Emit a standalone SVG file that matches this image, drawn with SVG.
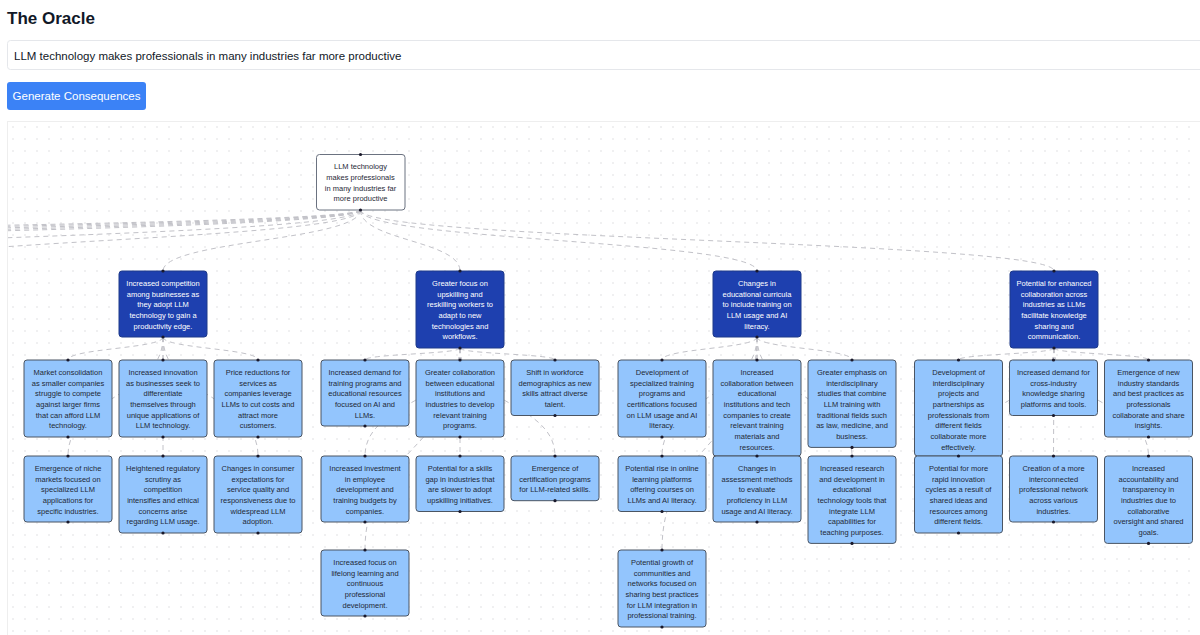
<svg xmlns="http://www.w3.org/2000/svg" width="1200" height="635" viewBox="0 0 1200 635">
<defs>
<style>
.t{font-family:"Liberation Sans",Arial,sans-serif;}
.nt{font-family:"Liberation Sans",Arial,sans-serif;font-size:7.5px;text-anchor:middle;fill:#1f2937;}
.dt{font-family:"Liberation Sans",Arial,sans-serif;font-size:7.5px;text-anchor:middle;fill:#ffffff;}
.ln{fill:#93c5fd;stroke:#4b5563;stroke-width:1;}
.dn{fill:#1e40af;stroke:#1e3a8a;stroke-width:1;}
.rn{fill:#ffffff;stroke:#6b7280;stroke-width:1;}
.h{fill:#1a192b;}
.e{fill:none;stroke:#c2c2c8;stroke-width:1;stroke-dasharray:5 4;}
</style>
<pattern id="dots" x="7" y="121" width="12" height="12" patternUnits="userSpaceOnUse">
<circle cx="6" cy="6" r="0.7" fill="#d4d4d8"/>
</pattern>
<clipPath id="cv"><rect x="8" y="122" width="1192" height="513"/></clipPath>
</defs>
<rect x="0" y="0" width="1200" height="635" fill="#ffffff"/>
<text class="t" x="7" y="24" font-size="17" font-weight="bold" fill="#111827">The Oracle</text>
<rect x="7.5" y="40.5" width="1200" height="29" rx="3" fill="#ffffff" stroke="#e5e7eb"/>
<text class="t" x="14" y="59.5" font-size="11.5" fill="#111827">LLM technology makes professionals in many industries far more productive</text>
<rect x="7" y="82" width="139" height="28" rx="3" fill="#3b82f6"/>
<text class="t" x="76.5" y="100" font-size="11.5" fill="#ffffff" text-anchor="middle">Generate Consequences</text>
<rect x="7.5" y="121.5" width="1200" height="600" fill="#ffffff" stroke="#eeeeee"/>
<rect x="8" y="122" width="1192" height="513" fill="url(#dots)"/>

<g id="connectors" clip-path="url(#cv)">
<path class="e" d="M360.5,210 C360.5,240.5 -150,240.5 -150,271"/>
<path class="e" d="M360.5,210 C360.5,240.5 -500,240.5 -500,271"/>
<path class="e" d="M360.5,210 C360.5,240.5 -1300,240.5 -1300,271"/>
<path class="e" d="M360.5,210 C360.5,240.5 -1600,240.5 -1600,271"/>
<path class="e" d="M360.5,210 C360.5,240.5 -2000,240.5 -2000,271"/>
<path class="e" d="M360.5,210 C360.5,240.5 -2500,240.5 -2500,271"/>
<path class="e" d="M360.5,210 C360.5,240.5 -3000,240.5 -3000,271"/>
<path class="e" d="M360.5,210 C360.5,240.5 163,240.5 163,271"/>
<path class="e" d="M360.5,210 C360.5,240.5 460,240.5 460,271"/>
<path class="e" d="M360.5,210 C360.5,240.5 757,240.5 757,271"/>
<path class="e" d="M360.5,210 C360.5,240.5 1054,240.5 1054,271"/>

<path class="e" d="M163,337 C163,348.5 68,348.5 68,360"/>
<path class="e" d="M163,337 L163,360"/>
<path class="e" d="M163,337 C163,348.5 258,348.5 258,360"/>
<path class="e" d="M163,337 C163,396.5 68,396.5 68,456"/>
<path class="e" d="M163,337 L163,456"/>
<path class="e" d="M163,337 C163,396.5 258,396.5 258,456"/>

<path class="e" d="M460,348 C460,354 365,354 365,360"/>
<path class="e" d="M460,348 L460,360"/>
<path class="e" d="M460,348 C460,354 555,354 555,360"/>
<path class="e" d="M460,348 C460,402 365,402 365,456"/>
<path class="e" d="M460,348 L460,456"/>
<path class="e" d="M460,348 C460,402 555,402 555,456"/>
<path class="e" d="M460,348 C460,449 365,449 365,550"/>

<path class="e" d="M757,337 C757,348.5 662,348.5 662,360"/>
<path class="e" d="M757,337 L757,360"/>
<path class="e" d="M757,337 C757,348.5 852,348.5 852,360"/>
<path class="e" d="M757,337 C757,396.5 662,396.5 662,456"/>
<path class="e" d="M757,337 L757,456"/>
<path class="e" d="M757,337 C757,396.5 852,396.5 852,456"/>
<path class="e" d="M757,337 C757,443.5 662,443.5 662,550"/>

<path class="e" d="M1054,348 C1054,354 958.5,354 958.5,360"/>
<path class="e" d="M1054,348 L1053.5,360"/>
<path class="e" d="M1054,348 C1054,354 1148.5,354 1148.5,360"/>
<path class="e" d="M1054,348 C1054,402 958.5,402 958.5,456"/>
<path class="e" d="M1054,348 L1053.5,456"/>
<path class="e" d="M1054,348 C1054,402 1148.5,402 1148.5,456"/>
</g>

<g id="n-root">
<rect class="rn" x="316.5" y="154.5" width="88.5" height="55.5" rx="3"/>
<text class="nt" x="360.5" y="169.3"><tspan x="360.5">LLM technology</tspan><tspan x="360.5" dy="10.67">makes professionals</tspan><tspan x="360.5" dy="10.67">in many industries far</tspan><tspan x="360.5" dy="10.67">more productive</tspan></text>
<circle class="h" cx="360.5" cy="154.5" r="1.6"/><circle class="h" cx="360.5" cy="210" r="1.6"/>
</g>

<g id="n-d1">
<rect class="dn" x="119" y="271" width="88" height="66" rx="3"/>
<text class="dt" x="163" y="286"><tspan x="163">Increased competition</tspan><tspan x="163" dy="10.67">among businesses as</tspan><tspan x="163" dy="10.67">they adopt LLM</tspan><tspan x="163" dy="10.67">technology to gain a</tspan><tspan x="163" dy="10.67">productivity edge.</tspan></text>
<circle class="h" cx="163" cy="271" r="1.6"/><circle class="h" cx="163" cy="337" r="1.6"/>
</g>
<g id="n-d2">
<rect class="dn" x="416" y="271" width="88" height="77" rx="3"/>
<text class="dt" x="460" y="286"><tspan x="460">Greater focus on</tspan><tspan x="460" dy="10.67">upskilling and</tspan><tspan x="460" dy="10.67">reskilling workers to</tspan><tspan x="460" dy="10.67">adapt to new</tspan><tspan x="460" dy="10.67">technologies and</tspan><tspan x="460" dy="10.67">workflows.</tspan></text>
<circle class="h" cx="460" cy="271" r="1.6"/><circle class="h" cx="460" cy="348" r="1.6"/>
</g>
<g id="n-d3">
<rect class="dn" x="713" y="271" width="88" height="66" rx="3"/>
<text class="dt" x="757" y="286"><tspan x="757">Changes in</tspan><tspan x="757" dy="10.67">educational curricula</tspan><tspan x="757" dy="10.67">to include training on</tspan><tspan x="757" dy="10.67">LLM usage and AI</tspan><tspan x="757" dy="10.67">literacy.</tspan></text>
<circle class="h" cx="757" cy="271" r="1.6"/><circle class="h" cx="757" cy="337" r="1.6"/>
</g>
<g id="n-d4">
<rect class="dn" x="1010" y="271" width="88" height="77" rx="3"/>
<text class="dt" x="1054" y="286"><tspan x="1054">Potential for enhanced</tspan><tspan x="1054" dy="10.67">collaboration across</tspan><tspan x="1054" dy="10.67">industries as LLMs</tspan><tspan x="1054" dy="10.67">facilitate knowledge</tspan><tspan x="1054" dy="10.67">sharing and</tspan><tspan x="1054" dy="10.67">communication.</tspan></text>
<circle class="h" cx="1054" cy="271" r="1.6"/><circle class="h" cx="1054" cy="348" r="1.6"/>
</g>

<g id="n-1a">
<rect class="ln" x="24" y="360" width="88" height="77" rx="3"/>
<text class="nt" x="68" y="375"><tspan x="68">Market consolidation</tspan><tspan x="68" dy="10.67">as smaller companies</tspan><tspan x="68" dy="10.67">struggle to compete</tspan><tspan x="68" dy="10.67">against larger firms</tspan><tspan x="68" dy="10.67">that can afford LLM</tspan><tspan x="68" dy="10.67">technology.</tspan></text>
<circle class="h" cx="68" cy="360" r="1.6"/><circle class="h" cx="68" cy="437" r="1.6"/>
</g>
<g id="n-1b">
<rect class="ln" x="119" y="360" width="88" height="77" rx="3"/>
<text class="nt" x="163" y="375"><tspan x="163">Increased innovation</tspan><tspan x="163" dy="10.67">as businesses seek to</tspan><tspan x="163" dy="10.67">differentiate</tspan><tspan x="163" dy="10.67">themselves through</tspan><tspan x="163" dy="10.67">unique applications of</tspan><tspan x="163" dy="10.67">LLM technology.</tspan></text>
<circle class="h" cx="163" cy="360" r="1.6"/><circle class="h" cx="163" cy="437" r="1.6"/>
</g>
<g id="n-1c">
<rect class="ln" x="214" y="360" width="88" height="77" rx="3"/>
<text class="nt" x="258" y="375"><tspan x="258">Price reductions for</tspan><tspan x="258" dy="10.67">services as</tspan><tspan x="258" dy="10.67">companies leverage</tspan><tspan x="258" dy="10.67">LLMs to cut costs and</tspan><tspan x="258" dy="10.67">attract more</tspan><tspan x="258" dy="10.67">customers.</tspan></text>
<circle class="h" cx="258" cy="360" r="1.6"/><circle class="h" cx="258" cy="437" r="1.6"/>
</g>
<g id="n-1d">
<rect class="ln" x="24" y="456" width="88" height="66" rx="3"/>
<text class="nt" x="68" y="471"><tspan x="68">Emergence of niche</tspan><tspan x="68" dy="10.67">markets focused on</tspan><tspan x="68" dy="10.67">specialized LLM</tspan><tspan x="68" dy="10.67">applications for</tspan><tspan x="68" dy="10.67">specific industries.</tspan></text>
<circle class="h" cx="68" cy="456" r="1.6"/><circle class="h" cx="68" cy="522" r="1.6"/>
</g>
<g id="n-1e">
<rect class="ln" x="119" y="456" width="88" height="77" rx="3"/>
<text class="nt" x="163" y="471"><tspan x="163">Heightened regulatory</tspan><tspan x="163" dy="10.67">scrutiny as</tspan><tspan x="163" dy="10.67">competition</tspan><tspan x="163" dy="10.67">intensifies and ethical</tspan><tspan x="163" dy="10.67">concerns arise</tspan><tspan x="163" dy="10.67">regarding LLM usage.</tspan></text>
<circle class="h" cx="163" cy="456" r="1.6"/><circle class="h" cx="163" cy="533" r="1.6"/>
</g>
<g id="n-1f">
<rect class="ln" x="214" y="456" width="88" height="77" rx="3"/>
<text class="nt" x="258" y="471"><tspan x="258">Changes in consumer</tspan><tspan x="258" dy="10.67">expectations for</tspan><tspan x="258" dy="10.67">service quality and</tspan><tspan x="258" dy="10.67">responsiveness due to</tspan><tspan x="258" dy="10.67">widespread LLM</tspan><tspan x="258" dy="10.67">adoption.</tspan></text>
<circle class="h" cx="258" cy="456" r="1.6"/><circle class="h" cx="258" cy="533" r="1.6"/>
</g>

<g id="n-2a">
<rect class="ln" x="321" y="360" width="88" height="66" rx="3"/>
<text class="nt" x="365" y="375"><tspan x="365">Increased demand for</tspan><tspan x="365" dy="10.67">training programs and</tspan><tspan x="365" dy="10.67">educational resources</tspan><tspan x="365" dy="10.67">focused on AI and</tspan><tspan x="365" dy="10.67">LLMs.</tspan></text>
<circle class="h" cx="365" cy="360" r="1.6"/><circle class="h" cx="365" cy="426" r="1.6"/>
</g>
<g id="n-2b">
<rect class="ln" x="416" y="360" width="88" height="77" rx="3"/>
<text class="nt" x="460" y="375"><tspan x="460">Greater collaboration</tspan><tspan x="460" dy="10.67">between educational</tspan><tspan x="460" dy="10.67">institutions and</tspan><tspan x="460" dy="10.67">industries to develop</tspan><tspan x="460" dy="10.67">relevant training</tspan><tspan x="460" dy="10.67">programs.</tspan></text>
<circle class="h" cx="460" cy="360" r="1.6"/><circle class="h" cx="460" cy="437" r="1.6"/>
</g>
<g id="n-2c">
<rect class="ln" x="511" y="360" width="88" height="55.5" rx="3"/>
<text class="nt" x="555" y="375"><tspan x="555">Shift in workforce</tspan><tspan x="555" dy="10.67">demographics as new</tspan><tspan x="555" dy="10.67">skills attract diverse</tspan><tspan x="555" dy="10.67">talent.</tspan></text>
<circle class="h" cx="555" cy="360" r="1.6"/><circle class="h" cx="555" cy="415.5" r="1.6"/>
</g>
<g id="n-2d">
<rect class="ln" x="321" y="456" width="88" height="66" rx="3"/>
<text class="nt" x="365" y="471"><tspan x="365">Increased investment</tspan><tspan x="365" dy="10.67">in employee</tspan><tspan x="365" dy="10.67">development and</tspan><tspan x="365" dy="10.67">training budgets by</tspan><tspan x="365" dy="10.67">companies.</tspan></text>
<circle class="h" cx="365" cy="456" r="1.6"/><circle class="h" cx="365" cy="522" r="1.6"/>
</g>
<g id="n-2e">
<rect class="ln" x="416" y="456" width="88" height="55.5" rx="3"/>
<text class="nt" x="460" y="471"><tspan x="460">Potential for a skills</tspan><tspan x="460" dy="10.67">gap in industries that</tspan><tspan x="460" dy="10.67">are slower to adopt</tspan><tspan x="460" dy="10.67">upskilling initiatives.</tspan></text>
<circle class="h" cx="460" cy="456" r="1.6"/><circle class="h" cx="460" cy="511.5" r="1.6"/>
</g>
<g id="n-2f">
<rect class="ln" x="511" y="456" width="88" height="44.7" rx="3"/>
<text class="nt" x="555" y="471"><tspan x="555">Emergence of</tspan><tspan x="555" dy="10.67">certification programs</tspan><tspan x="555" dy="10.67">for LLM-related skills.</tspan></text>
<circle class="h" cx="555" cy="456" r="1.6"/><circle class="h" cx="555" cy="500.7" r="1.6"/>
</g>
<g id="n-2g">
<rect class="ln" x="321" y="550" width="88" height="66" rx="3"/>
<text class="nt" x="365" y="565"><tspan x="365">Increased focus on</tspan><tspan x="365" dy="10.67">lifelong learning and</tspan><tspan x="365" dy="10.67">continuous</tspan><tspan x="365" dy="10.67">professional</tspan><tspan x="365" dy="10.67">development.</tspan></text>
<circle class="h" cx="365" cy="550" r="1.6"/><circle class="h" cx="365" cy="616" r="1.6"/>
</g>

<g id="n-3a">
<rect class="ln" x="618" y="360" width="88" height="77" rx="3"/>
<text class="nt" x="662" y="375"><tspan x="662">Development of</tspan><tspan x="662" dy="10.67">specialized training</tspan><tspan x="662" dy="10.67">programs and</tspan><tspan x="662" dy="10.67">certifications focused</tspan><tspan x="662" dy="10.67">on LLM usage and AI</tspan><tspan x="662" dy="10.67">literacy.</tspan></text>
<circle class="h" cx="662" cy="360" r="1.6"/><circle class="h" cx="662" cy="437" r="1.6"/>
</g>
<g id="n-3b">
<rect class="ln" x="713" y="360" width="88" height="96" rx="3"/>
<text class="nt" x="757" y="375"><tspan x="757">Increased</tspan><tspan x="757" dy="10.67">collaboration between</tspan><tspan x="757" dy="10.67">educational</tspan><tspan x="757" dy="10.67">institutions and tech</tspan><tspan x="757" dy="10.67">companies to create</tspan><tspan x="757" dy="10.67">relevant training</tspan><tspan x="757" dy="10.67">materials and</tspan><tspan x="757" dy="10.67">resources.</tspan></text>
<circle class="h" cx="757" cy="360" r="1.6"/>
</g>
<g id="n-3c">
<rect class="ln" x="808" y="360" width="88" height="87.4" rx="3"/>
<text class="nt" x="852" y="375"><tspan x="852">Greater emphasis on</tspan><tspan x="852" dy="10.67">interdisciplinary</tspan><tspan x="852" dy="10.67">studies that combine</tspan><tspan x="852" dy="10.67">LLM training with</tspan><tspan x="852" dy="10.67">traditional fields such</tspan><tspan x="852" dy="10.67">as law, medicine, and</tspan><tspan x="852" dy="10.67">business.</tspan></text>
<circle class="h" cx="852" cy="360" r="1.6"/><circle class="h" cx="852" cy="447.4" r="1.6"/>
</g>
<g id="n-3d">
<rect class="ln" x="618" y="456" width="88" height="55.5" rx="3"/>
<text class="nt" x="662" y="471"><tspan x="662">Potential rise in online</tspan><tspan x="662" dy="10.67">learning platforms</tspan><tspan x="662" dy="10.67">offering courses on</tspan><tspan x="662" dy="10.67">LLMs and AI literacy.</tspan></text>
<circle class="h" cx="662" cy="456" r="1.6"/><circle class="h" cx="662" cy="511.5" r="1.6"/>
</g>
<g id="n-3e">
<rect class="ln" x="713" y="456" width="88" height="66" rx="3"/>
<text class="nt" x="757" y="471"><tspan x="757">Changes in</tspan><tspan x="757" dy="10.67">assessment methods</tspan><tspan x="757" dy="10.67">to evaluate</tspan><tspan x="757" dy="10.67">proficiency in LLM</tspan><tspan x="757" dy="10.67">usage and AI literacy.</tspan></text>
<circle class="h" cx="757" cy="456" r="1.6"/><circle class="h" cx="757" cy="522" r="1.6"/>
</g>
<g id="n-3f">
<rect class="ln" x="808" y="456" width="88" height="87.4" rx="3"/>
<text class="nt" x="852" y="471"><tspan x="852">Increased research</tspan><tspan x="852" dy="10.67">and development in</tspan><tspan x="852" dy="10.67">educational</tspan><tspan x="852" dy="10.67">technology tools that</tspan><tspan x="852" dy="10.67">integrate LLM</tspan><tspan x="852" dy="10.67">capabilities for</tspan><tspan x="852" dy="10.67">teaching purposes.</tspan></text>
<circle class="h" cx="852" cy="456" r="1.6"/><circle class="h" cx="852" cy="543.4" r="1.6"/>
</g>
<g id="n-3g">
<rect class="ln" x="618" y="550" width="88" height="77" rx="3"/>
<text class="nt" x="662" y="565"><tspan x="662">Potential growth of</tspan><tspan x="662" dy="10.67">communities and</tspan><tspan x="662" dy="10.67">networks focused on</tspan><tspan x="662" dy="10.67">sharing best practices</tspan><tspan x="662" dy="10.67">for LLM integration in</tspan><tspan x="662" dy="10.67">professional training.</tspan></text>
<circle class="h" cx="662" cy="550" r="1.6"/><circle class="h" cx="662" cy="627" r="1.6"/>
</g>

<g id="n-4a">
<rect class="ln" x="914.5" y="360" width="88" height="96" rx="3"/>
<text class="nt" x="958.5" y="375"><tspan x="958.5">Development of</tspan><tspan x="958.5" dy="10.67">interdisciplinary</tspan><tspan x="958.5" dy="10.67">projects and</tspan><tspan x="958.5" dy="10.67">partnerships as</tspan><tspan x="958.5" dy="10.67">professionals from</tspan><tspan x="958.5" dy="10.67">different fields</tspan><tspan x="958.5" dy="10.67">collaborate more</tspan><tspan x="958.5" dy="10.67">effectively.</tspan></text>
<circle class="h" cx="958.5" cy="360" r="1.6"/>
</g>
<g id="n-4b">
<rect class="ln" x="1009.5" y="360" width="88" height="55.5" rx="3"/>
<text class="nt" x="1053.5" y="375"><tspan x="1053.5">Increased demand for</tspan><tspan x="1053.5" dy="10.67">cross-industry</tspan><tspan x="1053.5" dy="10.67">knowledge sharing</tspan><tspan x="1053.5" dy="10.67">platforms and tools.</tspan></text>
<circle class="h" cx="1053.5" cy="360" r="1.6"/><circle class="h" cx="1053.5" cy="415.5" r="1.6"/>
</g>
<g id="n-4c">
<rect class="ln" x="1104.5" y="360" width="88" height="77" rx="3"/>
<text class="nt" x="1148.5" y="375"><tspan x="1148.5">Emergence of new</tspan><tspan x="1148.5" dy="10.67">industry standards</tspan><tspan x="1148.5" dy="10.67">and best practices as</tspan><tspan x="1148.5" dy="10.67">professionals</tspan><tspan x="1148.5" dy="10.67">collaborate and share</tspan><tspan x="1148.5" dy="10.67">insights.</tspan></text>
<circle class="h" cx="1148.5" cy="360" r="1.6"/><circle class="h" cx="1148.5" cy="437" r="1.6"/>
</g>
<g id="n-4d">
<rect class="ln" x="914.5" y="456" width="88" height="77" rx="3"/>
<text class="nt" x="958.5" y="471"><tspan x="958.5">Potential for more</tspan><tspan x="958.5" dy="10.67">rapid innovation</tspan><tspan x="958.5" dy="10.67">cycles as a result of</tspan><tspan x="958.5" dy="10.67">shared ideas and</tspan><tspan x="958.5" dy="10.67">resources among</tspan><tspan x="958.5" dy="10.67">different fields.</tspan></text>
<circle class="h" cx="958.5" cy="456" r="1.6"/><circle class="h" cx="958.5" cy="533" r="1.6"/>
</g>
<g id="n-4e">
<rect class="ln" x="1009.5" y="456" width="88" height="66" rx="3"/>
<text class="nt" x="1053.5" y="471"><tspan x="1053.5">Creation of a more</tspan><tspan x="1053.5" dy="10.67">interconnected</tspan><tspan x="1053.5" dy="10.67">professional network</tspan><tspan x="1053.5" dy="10.67">across various</tspan><tspan x="1053.5" dy="10.67">industries.</tspan></text>
<circle class="h" cx="1053.5" cy="456" r="1.6"/><circle class="h" cx="1053.5" cy="522" r="1.6"/>
</g>
<g id="n-4f">
<rect class="ln" x="1104.5" y="456" width="88" height="87.4" rx="3"/>
<text class="nt" x="1148.5" y="471"><tspan x="1148.5">Increased</tspan><tspan x="1148.5" dy="10.67">accountability and</tspan><tspan x="1148.5" dy="10.67">transparency in</tspan><tspan x="1148.5" dy="10.67">industries due to</tspan><tspan x="1148.5" dy="10.67">collaborative</tspan><tspan x="1148.5" dy="10.67">oversight and shared</tspan><tspan x="1148.5" dy="10.67">goals.</tspan></text>
<circle class="h" cx="1148.5" cy="456" r="1.6"/><circle class="h" cx="1148.5" cy="543.4" r="1.6"/>
</g>
</svg>
